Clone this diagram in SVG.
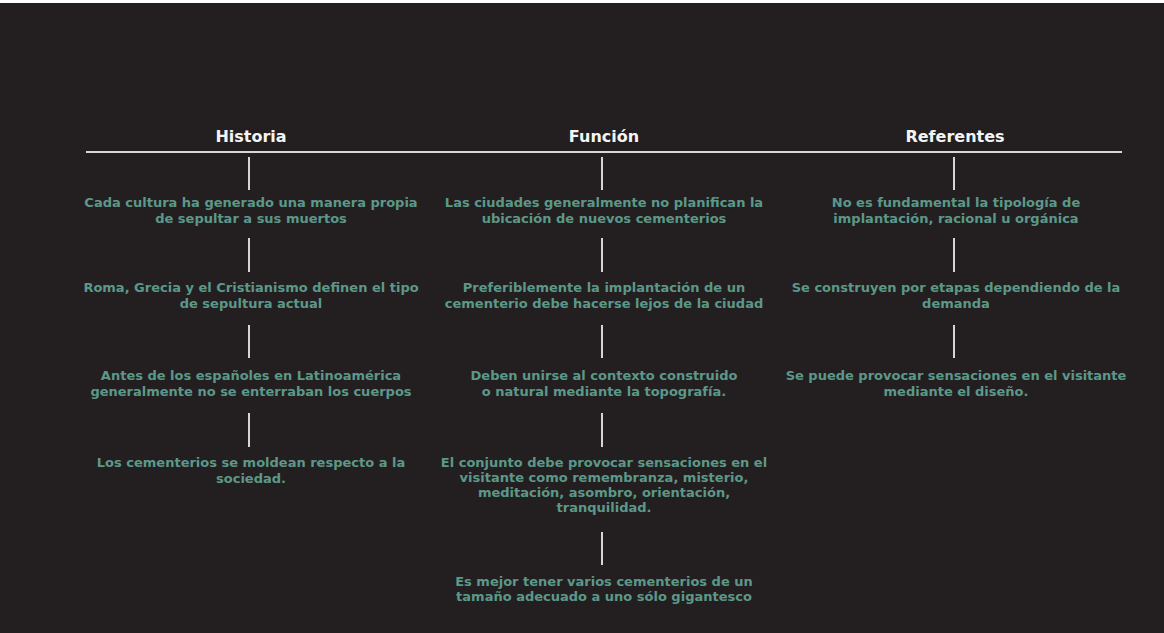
<svg xmlns="http://www.w3.org/2000/svg" width="1164" height="633" viewBox="0 0 1164 633">
<style>
.h{font-family:"DejaVu Sans","Liberation Sans",sans-serif;font-weight:bold;font-size:16px;fill:#f4f4f4;text-anchor:middle}
.t{font-family:"DejaVu Sans","Liberation Sans",sans-serif;font-weight:bold;font-size:13px;fill:#5c9889;text-anchor:middle}
.c line{stroke:#d6d6d6;stroke-width:2}
</style>
<rect width="1164" height="633" fill="#231f20"/>
<rect width="1164" height="3" fill="#ffffff"/>
<g class="c" id="connectors">
<line x1="86" y1="152" x2="1122" y2="152"/>
<line x1="249" y1="157" x2="249" y2="190"/>
<line x1="249" y1="238" x2="249" y2="272"/>
<line x1="249" y1="325" x2="249" y2="358"/>
<line x1="249" y1="413" x2="249" y2="447"/>
<line x1="602" y1="157" x2="602" y2="190"/>
<line x1="602" y1="238" x2="602" y2="272"/>
<line x1="602" y1="325" x2="602" y2="358"/>
<line x1="602" y1="413" x2="602" y2="447"/>
<line x1="602" y1="532" x2="602" y2="565"/>
<line x1="954" y1="157" x2="954" y2="190"/>
<line x1="954" y1="238" x2="954" y2="272"/>
<line x1="954" y1="325" x2="954" y2="358"/>
</g>
<g id="h-historia"><text class="h" x="251" y="142">Historia</text></g>
<g id="h-funcion"><text class="h" x="604" y="142">Función</text></g>
<g id="h-referentes"><text class="h" x="955" y="142">Referentes</text></g>
<g id="hist-1"><text class="t" x="251" y="207">Cada cultura ha generado una manera propia</text><text class="t" x="251" y="223">de sepultar a sus muertos</text></g>
<g id="hist-2"><text class="t" x="251" y="292">Roma, Grecia y el Cristianismo definen el tipo</text><text class="t" x="251" y="308">de sepultura actual</text></g>
<g id="hist-3"><text class="t" x="251" y="380">Antes de los españoles en Latinoamérica</text><text class="t" x="251" y="396">generalmente no se enterraban los cuerpos</text></g>
<g id="hist-4"><text class="t" x="251" y="467">Los cementerios se moldean respecto a la</text><text class="t" x="251" y="483">sociedad.</text></g>
<g id="fun-1"><text class="t" x="604" y="207">Las ciudades generalmente no planifican la</text><text class="t" x="604" y="223">ubicación de nuevos cementerios</text></g>
<g id="fun-2"><text class="t" x="604" y="292">Preferiblemente la implantación de un</text><text class="t" x="604" y="308">cementerio debe hacerse lejos de la ciudad</text></g>
<g id="fun-3"><text class="t" x="604" y="380">Deben unirse al contexto construido</text><text class="t" x="604" y="396">o natural mediante la topografía.</text></g>
<g id="fun-4"><text class="t" x="604" y="467">El conjunto debe provocar sensaciones en el</text><text class="t" x="604" y="482">visitante como remembranza, misterio,</text><text class="t" x="604" y="497">meditación, asombro, orientación,</text><text class="t" x="604" y="512">tranquilidad.</text></g>
<g id="fun-5"><text class="t" x="604" y="586">Es mejor tener varios cementerios de un</text><text class="t" x="604" y="601">tamaño adecuado a uno sólo gigantesco</text></g>
<g id="ref-1"><text class="t" x="956" y="207">No es fundamental la tipología de</text><text class="t" x="956" y="223">implantación, racional u orgánica</text></g>
<g id="ref-2"><text class="t" x="956" y="292">Se construyen por etapas dependiendo de la</text><text class="t" x="956" y="308">demanda</text></g>
<g id="ref-3"><text class="t" x="956" y="380">Se puede provocar sensaciones en el visitante</text><text class="t" x="956" y="396">mediante el diseño.</text></g>
</svg>
